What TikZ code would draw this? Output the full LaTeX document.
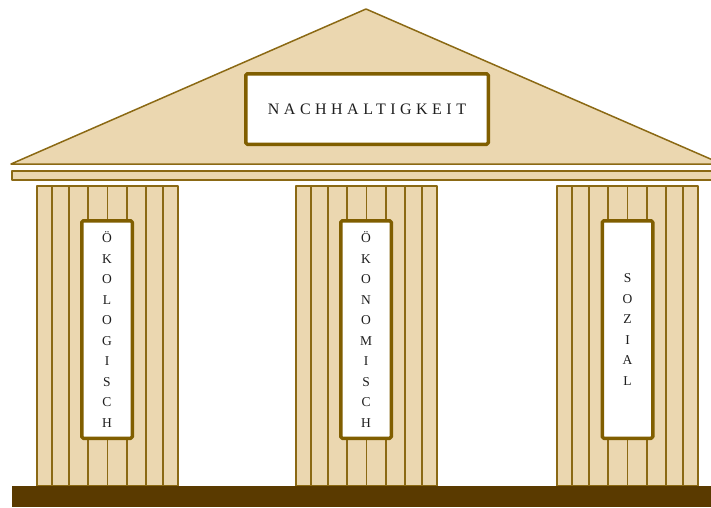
\documentclass[tikz,border=0pt]{standalone}
\usepackage{fontspec}
\setmainfont{Liberation Serif}
\usetikzlibrary{positioning}
\definecolor{TempleSand}{RGB}{235, 215, 176}
\definecolor{TempleLine}{RGB}{139, 105, 20}
\definecolor{FrameBrown}{RGB}{128, 94, 0}
\definecolor{BaseBrown}{RGB}{90, 58, 0}
\definecolor{DarkText}{RGB}{30, 30, 30}

\begin{document}
\begin{tikzpicture}[x=1pt, y=-1pt, line join=round]
      \tikzset{
        stone/.style={fill=TempleSand, draw=TempleLine, line width=1.5pt},
        flute/.style={draw=TempleLine, line width=1.5pt},
        plaque/.style={draw=FrameBrown, fill=white, line width=3.5pt, rounded corners=1.5pt, inner sep=0pt, text=DarkText},
        pillartext/.style={font=\fontsize{13.5}{20.5}\selectfont, align=center}
      }
      \useasboundingbox (0,0) rectangle (711,507);
      \clip (0,0) rectangle (711,507);

      % Pediment
      \draw[stone] (11,164) -- (366,9) -- (722,164) -- cycle;

      % Beam
      \draw[stone] (12,171) rectangle (740,180);

      % Columns with flutes
      \foreach \cx in {107.5, 366.5, 627.5} {
        \draw[stone] (\cx-70.5,186) rectangle (\cx+70.5,486);
        \foreach \dx in {-55.5,-38.5,-19.5,0,19.5,38.5,55.5}
          \draw[flute] (\cx+\dx,186) -- (\cx+\dx,486);
      }

      % Base
      \fill[BaseBrown] (12,486) rectangle (740,507);

      % Plaques
      \node[plaque, minimum width=242.5pt, minimum height=70.5pt, font=\fontsize{16}{16}\selectfont\addfontfeature{LetterSpace=28}] (nachh) at (367,109) {NACHHALTIGKEIT};
      \node[plaque, pillartext, minimum width=50.5pt, minimum height=217.5pt] (oekol) at (107,329.5) {Ö\\K\\O\\L\\O\\G\\I\\S\\C\\H};
      \node[plaque, pillartext, minimum width=50.5pt, minimum height=217.5pt] (oekon) at (366,329.5) {Ö\\K\\O\\N\\O\\M\\I\\S\\C\\H};
      \node[plaque, pillartext, minimum width=50.5pt, minimum height=217.5pt] (sozial) at (627.5,329.5) {S\\O\\Z\\I\\A\\L};
\end{tikzpicture}
\end{document}
